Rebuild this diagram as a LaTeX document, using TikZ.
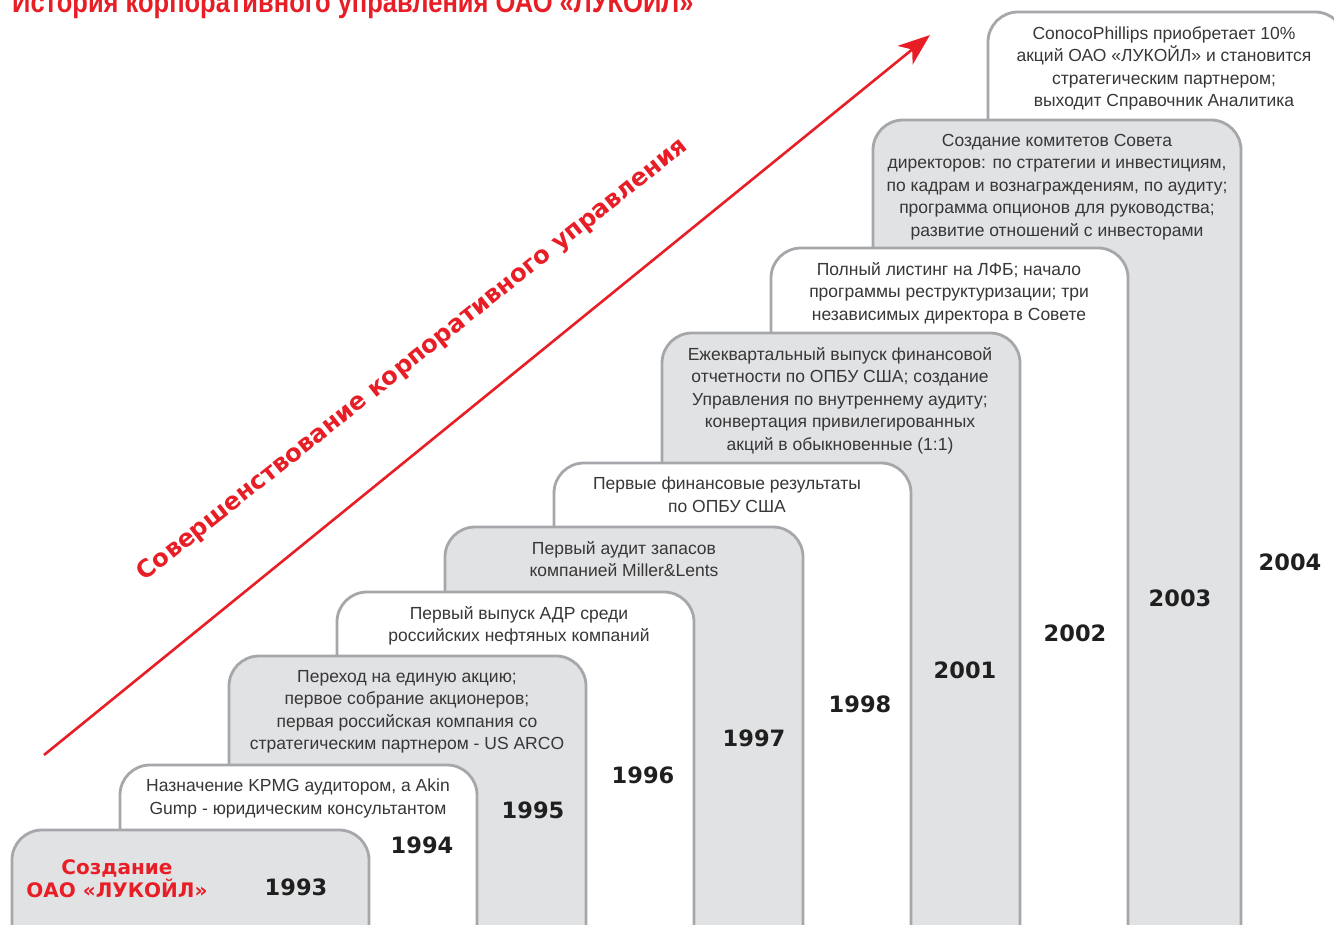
\documentclass[tikz,border=0pt]{standalone}
\usepackage{fontspec}
\usepackage{xcolor, tikz}
\usetikzlibrary{arrows.meta}
\setmainfont{Liberation Sans}
\newfontfamily\heavyfont{DejaVu Sans}
\newfontfamily\titlefont{Liberation Sans}[FakeStretch=0.85]
\definecolor{boxgray}{RGB}{225,226,228}
\definecolor{edgegray}{RGB}{165,167,170}
\definecolor{lukred}{RGB}{232,30,38}
\definecolor{txtgray}{RGB}{55,55,55}

\begin{document}
\begin{tikzpicture}[x=1pt, y=1pt, yscale=-1, xscale=1,
  graystep/.style={draw=edgegray, line width=2.8pt, fill=boxgray, rounded corners=30pt},
  whitestep/.style={draw=edgegray, line width=2.8pt, fill=white, rounded corners=30pt},
  boxtext/.style={anchor=north, inner sep=0pt, align=center, text=txtgray, font=\fontsize{17.5}{22.5}\selectfont},
  yeartext/.style={inner sep=0pt, text=black!88, font=\heavyfont\bfseries\fontsize{22.5}{22.5}\selectfont},
  growth/.style={lukred, line width=2.6pt, -{Stealth[length=32pt, width=24pt, inset=9pt]}}]
\useasboundingbox (0,0) rectangle (1334,925);
%Steps
\draw [whitestep] (988,950) -- (988,12) -- (1345,12) -- (1345,950);
\draw (1164,26) node (t2004) [boxtext] {ConocoPhillips приобретает 10\%\\акций ОАО «ЛУКОЙЛ» и становится\\стратегическим партнером;\\выходит Справочник Аналитика};
\draw (1290,562) node (y2004) [yeartext] {2004};
\draw [graystep] (873,950) -- (873,120) -- (1241,120) -- (1241,950);
\draw (1057,134) node (t2003) [boxtext] {Создание комитетов Совета\\директоров: по стратегии и инвестициям,\\по кадрам и вознаграждениям, по аудиту;\\программа опционов для руководства;\\развитие отношений с инвесторами};
\draw (1180,598) node (y2003) [yeartext] {2003};
\draw [whitestep] (771,950) -- (771,248) -- (1128,248) -- (1128,950);
\draw (949,262) node (t2002) [boxtext] {Полный листинг на ЛФБ; начало\\программы реструктуризации; три\\независимых директора в Совете};
\draw (1075,633) node (y2002) [yeartext] {2002};
\draw [graystep] (662,950) -- (662,333) -- (1020,333) -- (1020,950);
\draw (840,347) node (t2001) [boxtext] {Ежеквартальный выпуск финансовой\\отчетности по ОПБУ США; создание\\Управления по внутреннему аудиту;\\конвертация привилегированных\\акций в обыкновенные (1:1)};
\draw (965,670) node (y2001) [yeartext] {2001};
\draw [whitestep] (554,950) -- (554,463) -- (911,463) -- (911,950);
\draw (727,477) node (t1998) [boxtext] {Первые финансовые результаты\\по ОПБУ США};
\draw (860,704) node (y1998) [yeartext] {1998};
\draw [graystep] (445,950) -- (445,527) -- (803,527) -- (803,950);
\draw (624,541) node (t1997) [boxtext] {Первый аудит запасов\\компанией Miller\&Lents};
\draw (754,738) node (y1997) [yeartext] {1997};
\draw [whitestep] (337,950) -- (337,592) -- (694,592) -- (694,950);
\draw (519,606) node (t1996) [boxtext] {Первый выпуск АДР среди\\российских нефтяных компаний};
\draw (643,775) node (y1996) [yeartext] {1996};
\draw [graystep] (229,950) -- (229,656) -- (586,656) -- (586,950);
\draw (407,670) node (t1995) [boxtext] {Переход на единую акцию;\\первое собрание акционеров;\\первая российская компания со\\стратегическим партнером - US ARCO};
\draw (533,810) node (y1995) [yeartext] {1995};
\draw [whitestep] (120,950) -- (120,765) -- (477,765) -- (477,950);
\draw (298,779) node (t1994) [boxtext] {Назначение KPMG аудитором, а Akin\\Gump - юридическим консультантом};
\draw (422,845) node (y1994) [yeartext] {1994};
\draw [graystep] (12,950) -- (12,830) -- (369,830) -- (369,950);
\draw (117,879) node (t1993) [inner sep=0pt, align=center, text=lukred, font=\heavyfont\bfseries\fontsize{20}{23}\selectfont] {Создание\\ОАО «ЛУКОЙЛ»};
\draw (296,887) node (y1993) [yeartext] {1993};
%Arrow
\coordinate (arrow start) at (44,755);
\coordinate (arrow end) at (930,35);
\draw [growth] (arrow start) -- (arrow end);
%Text
\draw (413,360) node (slogan) [rotate=38.5, inner sep=0pt, text=lukred, font=\heavyfont\bfseries\fontsize{24.3}{24.3}\selectfont] {Совершенствование корпоративного управления};
\draw (12,13) node (title) [anchor=base west, inner sep=0pt, text=lukred, font=\titlefont\bfseries\fontsize{30}{30}\selectfont] {История корпоративного управления ОАО «ЛУКОЙЛ»};
\end{tikzpicture}
\end{document}
